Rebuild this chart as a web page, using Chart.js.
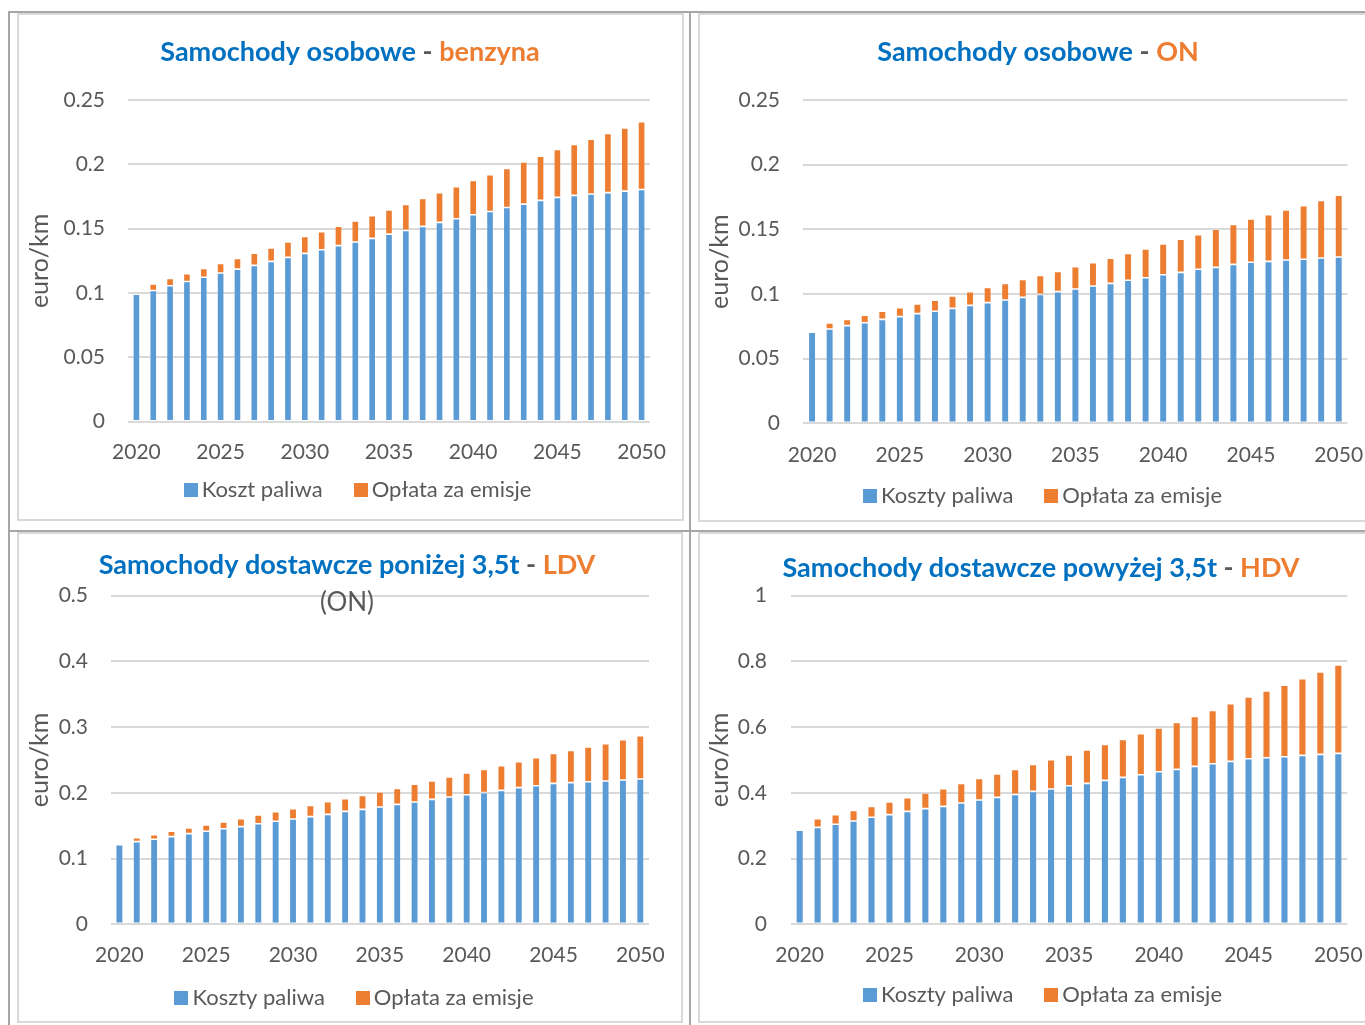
<!DOCTYPE html>
<html lang="pl">
<head>
<meta charset="utf-8">
<title>Koszty paliwa i opłaty za emisje 2020–2050</title>
<script src="https://cdn.jsdelivr.net/npm/chart.js@4.4.1/dist/chart.umd.min.js"></script>
<style>
  html, body { margin: 0; padding: 0; background: #fff; }
  body { width: 1365px; height: 1025px; position: relative; overflow: hidden; }
  .rule { position: absolute; background: #a6a6a6; }
  .panel { position: absolute; box-sizing: border-box; border: 2px solid #d9d9d9; background: #fff; }
  .panel canvas { display: block; }
</style>
</head>
<body>
<div class="rule" style="left:8px; top:11px; width:1357px; height:2px"></div>
<div class="rule" style="left:8px; top:11px; width:2px; height:1014px"></div>
<div class="rule" style="left:689px; top:11px; width:2px; height:1014px"></div>
<div class="rule" style="left:8px; top:530px; width:1357px; height:2px"></div>

<div class="panel" style="left:17px; top:13px; width:667px; height:508px"><canvas id="cOsobBenzyna"></canvas></div>
<div class="panel" style="left:698px; top:13px; width:700px; height:509px"><canvas id="cOsobOn"></canvas></div>
<div class="panel" style="left:17px; top:532px; width:666px; height:491px"><canvas id="cLdv"></canvas></div>
<div class="panel" style="left:698px; top:532px; width:700px; height:491px"><canvas id="cHdv"></canvas></div>

<script>
// Lata prognozy (kategorie osi X)
const years = [2020, 2021, 2022, 2023, 2024, 2025, 2026, 2027, 2028, 2029,
               2030, 2031, 2032, 2033, 2034, 2035, 2036, 2037, 2038, 2039,
               2040, 2041, 2042, 2043, 2044, 2045, 2046, 2047, 2048, 2049, 2050];
// Lata podpisane na osi X
const yearLabels = [2020, 2025, 2030, 2035, 2040, 2045, 2050];

// Samochody osobowe – benzyna [euro/km]
const osobBenzynaPaliwo = [0.0990, 0.1020, 0.1057, 0.1090, 0.1122, 0.1155, 0.1186, 0.1215, 0.1246, 0.1277,
                           0.1308, 0.1336, 0.1368, 0.1396, 0.1425, 0.1458, 0.1487, 0.1518, 0.1549, 0.1577,
                           0.1608, 0.1634, 0.1665, 0.1691, 0.1720, 0.1743, 0.1759, 0.1769, 0.1780, 0.1792, 0.1805];
const osobBenzynaEmisje = [0.0000, 0.0050, 0.0057, 0.0060, 0.0069, 0.0075, 0.0083, 0.0095, 0.0104, 0.0119,
                           0.0132, 0.0140, 0.0152, 0.0164, 0.0175, 0.0187, 0.0202, 0.0217, 0.0231, 0.0249,
                           0.0267, 0.0285, 0.0303, 0.0327, 0.0344, 0.0373, 0.0396, 0.0427, 0.0460, 0.0490, 0.0526];

// Samochody osobowe – ON [euro/km]
const osobOnPaliwo = [0.0704, 0.0729, 0.0755, 0.0778, 0.0804, 0.0825, 0.0848, 0.0866, 0.0889, 0.0912,
                      0.0933, 0.0953, 0.0974, 0.0997, 0.1018, 0.1039, 0.1062, 0.1082, 0.1106, 0.1126,
                      0.1149, 0.1167, 0.1191, 0.1206, 0.1229, 0.1245, 0.1252, 0.1263, 0.1268, 0.1278, 0.1286];
const osobOnEmisje = [0.0000, 0.0047, 0.0049, 0.0057, 0.0062, 0.0069, 0.0075, 0.0085, 0.0095, 0.0106,
                      0.0118, 0.0129, 0.0139, 0.0147, 0.0157, 0.0172, 0.0180, 0.0194, 0.0208, 0.0222,
                      0.0237, 0.0256, 0.0268, 0.0294, 0.0309, 0.0335, 0.0361, 0.0386, 0.0415, 0.0446, 0.0477];

// Samochody dostawcze poniżej 3,5t – LDV (ON) [euro/km]
const ldvPaliwo = [0.1212, 0.1258, 0.1293, 0.1334, 0.1379, 0.1415, 0.1455, 0.1486, 0.1531, 0.1567,
                   0.1602, 0.1638, 0.1673, 0.1719, 0.1749, 0.1785, 0.1825, 0.1861, 0.1901, 0.1937,
                   0.1972, 0.2003, 0.2038, 0.2079, 0.2109, 0.2145, 0.2155, 0.2170, 0.2180, 0.2195, 0.2211];
const ldvEmisje = [0.0000, 0.0060, 0.0071, 0.0081, 0.0087, 0.0096, 0.0102, 0.0121, 0.0132, 0.0147,
                   0.0158, 0.0172, 0.0193, 0.0192, 0.0213, 0.0228, 0.0244, 0.0269, 0.0279, 0.0304,
                   0.0330, 0.0355, 0.0376, 0.0395, 0.0426, 0.0456, 0.0492, 0.0527, 0.0568, 0.0614, 0.0659];

// Samochody dostawcze powyżej 3,5t – HDV [euro/km]
const hdvPaliwo = [0.2860, 0.2950, 0.3043, 0.3144, 0.3256, 0.3337, 0.3438, 0.3519, 0.3590, 0.3692,
                   0.3783, 0.3864, 0.3955, 0.4046, 0.4117, 0.4218, 0.4289, 0.4380, 0.4472, 0.4553,
                   0.4644, 0.4715, 0.4806, 0.4887, 0.4958, 0.5040, 0.5070, 0.5100, 0.5141, 0.5171, 0.5202];
const hdvEmisje = [0.0000, 0.0265, 0.0294, 0.0324, 0.0334, 0.0385, 0.0416, 0.0477, 0.0538, 0.0598,
                   0.0659, 0.0710, 0.0760, 0.0822, 0.0892, 0.0933, 0.1014, 0.1096, 0.1156, 0.1247,
                   0.1328, 0.1430, 0.1521, 0.1623, 0.1755, 0.1875, 0.2028, 0.2180, 0.2332, 0.2505, 0.2687];

// Podziałki osi Y
const osobTicks = [0, 0.05, 0.1, 0.15, 0.2, 0.25];
const ldvTicks  = [0, 0.1, 0.2, 0.3, 0.4, 0.5];
const hdvTicks  = [0, 0.2, 0.4, 0.6, 0.8, 1];

// Nazwy serii
const labelKoszt   = 'Koszt paliwa';
const labelKoszty  = 'Koszty paliwa';
const labelEmisje  = 'Opłata za emisje';
const axisTitle    = 'euro/km';

const FONT   = 'Lato, "Open Sans", sans-serif';
const BLUE   = '#5b9bd5';
const ORANGE = '#ed7d31';
const TBLUE  = '#0070c0';
const GRAY   = '#595959';
const TICK_SIZE = 21, LEGEND_SIZE = 22, AXIS_TITLE_SIZE = 25, TITLE_SIZE = 27, SUB_SIZE = 26;
const X_LABEL_LH = 2.2;          // wysokość wiersza etykiet osi X (mnożnik)
const X_AXIS_H = 50;

Chart.defaults.font.family = FONT;

// Tytuł wielobarwny i legenda rysowane na płótnie wykresu
function panelText(cfg) {
  return {
    id: 'panelText',
    afterDraw(chart) {
      const ctx = chart.ctx;
      ctx.save();
      ctx.textBaseline = 'middle';
      ctx.textAlign = 'left';
      ctx.font = `bold ${TITLE_SIZE}px ${FONT}`;
      const w = cfg.title.map(p => ctx.measureText(p.text).width);
      let x = cfg.titleX - w.reduce((a, b) => a + b, 0) / 2;
      cfg.title.forEach((p, i) => {
        ctx.fillStyle = p.color;
        ctx.fillText(p.text, x, cfg.titleY);
        x += w[i];
      });
      if (cfg.subtitle) {
        ctx.font = `${SUB_SIZE}px ${FONT}`;
        ctx.fillStyle = GRAY;
        ctx.textAlign = 'center';
        ctx.fillText(cfg.subtitle, cfg.titleX, cfg.subY);
        ctx.textAlign = 'left';
      }
      // legenda
      const BOX = 14, GAP = 4, SPACING = 31;
      ctx.font = `${LEGEND_SIZE}px ${FONT}`;
      const items = chart.data.datasets.map(ds => ({
        text: ds.label, color: ds.backgroundColor, w: ctx.measureText(ds.label).width
      }));
      const total = items.reduce((s, it) => s + BOX + GAP + it.w, 0) + SPACING * (items.length - 1);
      let lx = cfg.legendX - total / 2;
      items.forEach(it => {
        ctx.fillStyle = it.color;
        ctx.fillRect(Math.round(lx), Math.round(cfg.legendY - BOX / 2), BOX, BOX);
        ctx.fillStyle = GRAY;
        ctx.fillText(it.text, lx + BOX + GAP, cfg.legendY);
        lx += BOX + GAP + it.w + SPACING;
      });
      ctx.restore();
    }
  };
}

function makeChart(id, s) {
  const canvas = document.getElementById(id);
  canvas.width = s.w;
  canvas.height = s.h;
  const pl = 2;
  const axisTitleLH = AXIS_TITLE_SIZE * 1.2;
  const xLabelLH = TICK_SIZE * X_LABEL_LH;
  const edge = 'rgba(255,255,255,0.25)';
  return new Chart(canvas, {
    type: 'bar',
    data: {
      labels: years,
      datasets: [
        { label: s.fuelLabel, data: s.fuel, backgroundColor: BLUE,
          borderColor: edge, borderWidth: 0.8, borderSkipped: false,
          barPercentage: 0.43, categoryPercentage: 1 },
        { label: labelEmisje, data: s.emis, backgroundColor: ORANGE,
          borderColor: edge, borderWidth: 0.8, borderSkipped: false,
          barPercentage: 0.43, categoryPercentage: 1 }
      ]
    },
    options: {
      responsive: false,
      animation: false,
      devicePixelRatio: 1,
      layout: {
        padding: { left: pl, top: s.top, right: s.w - s.right, bottom: s.h - s.bottom - X_AXIS_H }
      },
      plugins: { legend: { display: false }, title: { display: false }, tooltip: { enabled: false } },
      scales: {
        x: {
          stacked: true,
          grid: { display: false, drawTicks: false },
          border: { display: false },
          ticks: {
            autoSkip: false, maxRotation: 0, minRotation: 0,
            padding: s.xLabelY - s.bottom - xLabelLH / 2,
            color: GRAY, font: { size: TICK_SIZE, lineHeight: X_LABEL_LH },
            callback: (v, i) => yearLabels.includes(years[i]) ? String(years[i]) : ''
          },
          afterFit: sc => { sc.height = X_AXIS_H; }
        },
        y: {
          stacked: true,
          min: 0,
          max: s.ticks[s.ticks.length - 1],
          border: { display: false },
          grid: { color: '#d9d9d9', lineWidth: 2, drawTicks: false },
          ticks: { padding: s.left - s.tickRight, color: GRAY, font: { size: TICK_SIZE },
                   callback: v => String(v) },
          afterBuildTicks: sc => { sc.ticks = s.ticks.map(v => ({ value: v })); },
          afterFit: sc => { sc.width = s.left - pl; },
          title: {
            display: true, text: axisTitle, color: GRAY,
            font: { size: AXIS_TITLE_SIZE },
            padding: { top: s.axisTitleX - pl - axisTitleLH / 2, bottom: 0 }
          }
        }
      }
    },
    plugins: [panelText(s.text)]
  });
}

makeChart('cOsobBenzyna', {
  w: 663, h: 504, left: 109, right: 631, top: 85, bottom: 406.7,
  tickRight: 86, axisTitleX: 21, xLabelY: 437,
  ticks: osobTicks, fuel: osobBenzynaPaliwo, emis: osobBenzynaEmisje, fuelLabel: labelKoszt,
  text: { title: [{ text: 'Samochody osobowe', color: TBLUE }, { text: ' - ', color: GRAY },
                  { text: 'benzyna', color: ORANGE }],
          titleX: 331, titleY: 37, legendX: 338.5, legendY: 475 }
});

makeChart('cOsobOn', {
  w: 696, h: 505, left: 103.3, right: 647.5, top: 85, bottom: 408.3,
  tickRight: 80, axisTitleX: 20, xLabelY: 440,
  ticks: osobTicks, fuel: osobOnPaliwo, emis: osobOnEmisje, fuelLabel: labelKoszty,
  text: { title: [{ text: 'Samochody osobowe', color: TBLUE }, { text: ' - ', color: GRAY },
                  { text: 'ON', color: ORANGE }],
          titleX: 338, titleY: 37, legendX: 342.5, legendY: 481 }
});

makeChart('cLdv', {
  w: 662, h: 487, left: 91.7, right: 630, top: 61.7, bottom: 390.3,
  tickRight: 69, axisTitleX: 21, xLabelY: 421,
  ticks: ldvTicks, fuel: ldvPaliwo, emis: ldvEmisje, fuelLabel: labelKoszty,
  text: { title: [{ text: 'Samochody dostawcze poniżej 3,5t', color: TBLUE }, { text: ' - ', color: GRAY },
                  { text: 'LDV', color: ORANGE }],
          titleX: 328, titleY: 31, subtitle: '(ON)', subY: 69, legendX: 335, legendY: 464 }
});

makeChart('cHdv', {
  w: 696, h: 487, left: 90.7, right: 647.3, top: 61.7, bottom: 390.3,
  tickRight: 67, axisTitleX: 20, xLabelY: 421,
  ticks: hdvTicks, fuel: hdvPaliwo, emis: hdvEmisje, fuelLabel: labelKoszty,
  text: { title: [{ text: 'Samochody dostawcze powyżej 3,5t', color: TBLUE }, { text: ' - ', color: GRAY },
                  { text: 'HDV', color: ORANGE }],
          titleX: 341, titleY: 34, legendX: 342.5, legendY: 461 }
});
</script>
</body>
</html>
